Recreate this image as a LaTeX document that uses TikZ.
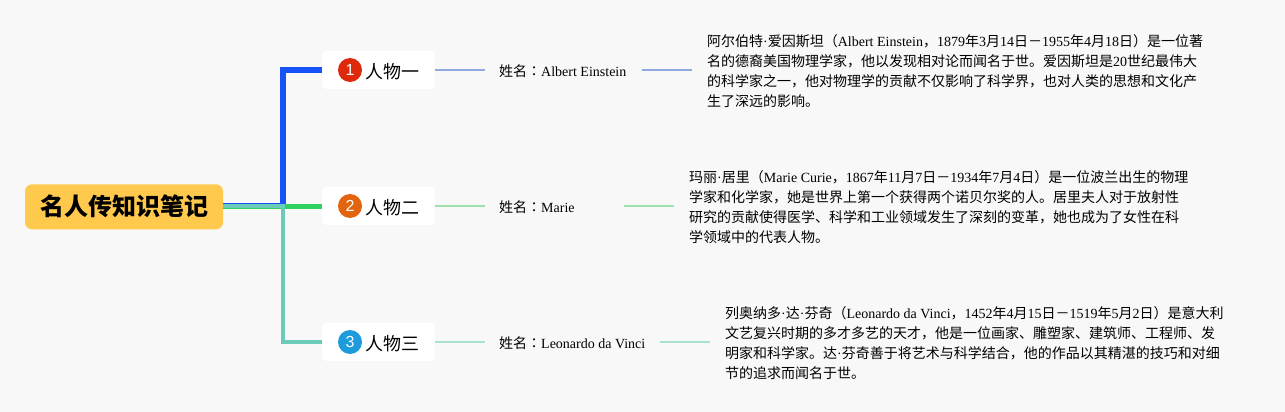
\documentclass[tikz,border=0pt]{standalone}
\usepackage{fontspec}
\usetikzlibrary{positioning}
\setmainfont{Liberation Serif}
\setsansfont{Liberation Sans}
\newfontfamily\cjk{Noto Sans CJK SC}
\newfontfamily\cjkmark{Noto Sans CJK TC}
\newcommand{\en}[1]{{\rmfamily #1}}
\newcommand{\namerow}[2]{\makebox[#1pt][l]{姓名{\cjkmark ：}\en{#2}}}
\definecolor{paper}{HTML}{F8F8F9}
\definecolor{rootfill}{HTML}{FFC94D}
\definecolor{branchA}{HTML}{1652F5}
\definecolor{branchB}{HTML}{2FD25F}
\definecolor{branchC}{HTML}{6CCBB8}
\definecolor{leafA}{HTML}{8FA8E0}
\definecolor{leafB}{HTML}{9FE0AE}
\definecolor{leafC}{HTML}{A8E0D2}
\definecolor{iconA}{HTML}{DD2A0C}
\definecolor{iconB}{HTML}{E3640F}
\definecolor{iconC}{HTML}{1E9BDD}
\tikzset{
    rootbox/.style={fill=rootfill, rounded corners=7pt, minimum width=198pt, minimum height=45pt, inner sep=0pt, font=\cjk\fontsize{24}{28}\selectfont\bfseries},
    topicbox/.style={fill=white, rounded corners=4pt, minimum width=113pt, minimum height=38pt, inner sep=0pt},
    topictext/.style={inner sep=0pt, yshift=-1.2pt, font=\cjk\fontsize{18}{22}\selectfont},
    iconball/.style={circle, inner sep=0pt, minimum size=24pt, text=white, font=\sffamily\fontsize{16}{18}\selectfont},
    namebox/.style={inner xsep=14pt, inner ysep=0pt, anchor=west, font=\cjk\fontsize{14}{20}\selectfont},
    detailbox/.style={inner xsep=15pt, inner ysep=0pt, align=left, anchor=west, font=\cjk\fontsize{14}{20}\selectfont},
    trunk/.style={line width=#1},
    twig/.style={line width=1.5pt}
}
\begin{document}
\begin{tikzpicture}[x=1pt,y=-1pt]
    % Canvas
    \useasboundingbox[fill=paper] (0,0) rectangle (1285,412);

    % Root and topics
    \node[rootbox] (root) at (124,206.8) {名人传知识笔记};
    \node[topicbox] (topicA) at (378.5,70) {};
    \node[topicbox] (topicB) at (378.5,206) {};
    \node[topicbox] (topicC) at (378.5,342) {};

    \node[iconball, fill=iconA] (iconA) at (350,70) {1};
    \node[iconball, fill=iconB] (iconB) at (350,206) {2};
    \node[iconball, fill=iconC] (iconC) at (350,342) {3};

    \node[topictext, right=3pt of iconA] (labelA) {人物一};
    \node[topictext, right=3pt of iconB] (labelB) {人物二};
    \node[topictext, right=3pt of iconC] (labelC) {人物三};

    % Names
    \node[namebox] (nameA) at (485,71) {\namerow{129}{Albert Einstein}};
    \node[namebox] (nameB) at (485,207) {\namerow{111}{Marie}};
    \node[namebox] (nameC) at (485,343) {\namerow{147}{Leonardo da Vinci}};

    % Details
    \node[detailbox] (detailA) at (692,71) {阿尔伯特\en{·}爱因斯坦（\en{Albert Einstein}，\en{1879}年\en{3}月\en{14}日－\en{1955}年\en{4}月\en{18}日）是一位著\\名的德裔美国物理学家，他以发现相对论而闻名于世。爱因斯坦是\en{20}世纪最伟大\\的科学家之一，他对物理学的贡献不仅影响了科学界，也对人类的思想和文化产\\生了深远的影响。};
    \node[detailbox] (detailB) at (674,207) {玛丽\en{·}居里（\en{Marie Curie}，\en{1867}年\en{11}月\en{7}日－\en{1934}年\en{7}月\en{4}日）是一位波兰出生的物理\\学家和化学家，她是世界上第一个获得两个诺贝尔奖的人。居里夫人对于放射性\\研究的贡献使得医学、科学和工业领域发生了深刻的变革，她也成为了女性在科\\学领域中的代表人物。};
    \node[detailbox] (detailC) at (710,343) {列奥纳多\en{·}达\en{·}芬奇（\en{Leonardo da Vinci}，\en{1452}年\en{4}月\en{15}日－\en{1519}年\en{5}月\en{2}日）是意大利\\文艺复兴时期的多才多艺的天才，他是一位画家、雕塑家、建筑师、工程师、发\\明家和科学家。达\en{·}芬奇善于将艺术与科学结合，他的作品以其精湛的技巧和对细\\节的追求而闻名于世。};

    % Branches
    \coordinate (start) at (root.east |- topicB.west);
    \coordinate (bendA) at (283,70);
    \coordinate (bendC) at (283,342);
    \draw[trunk=6pt, branchA] (start) -| (bendA) -- (topicA.west);
    \draw[trunk=5pt, branchB] (start) -- (topicB.west);
    \draw[trunk=4pt, branchC] (start) -| (bendC) -- (topicC.west);

    % Leaves
    \draw[twig, leafA] (topicA.east) -- (topicA.east -| nameA.west) (topicA.east -| nameA.east) -- (topicA.east -| detailA.west);
    \draw[twig, leafB] (topicB.east) -- (topicB.east -| nameB.west) (topicB.east -| nameB.east) -- (topicB.east -| detailB.west);
    \draw[twig, leafC] (topicC.east) -- (topicC.east -| nameC.west) (topicC.east -| nameC.east) -- (topicC.east -| detailC.west);
\end{tikzpicture}
\end{document}
